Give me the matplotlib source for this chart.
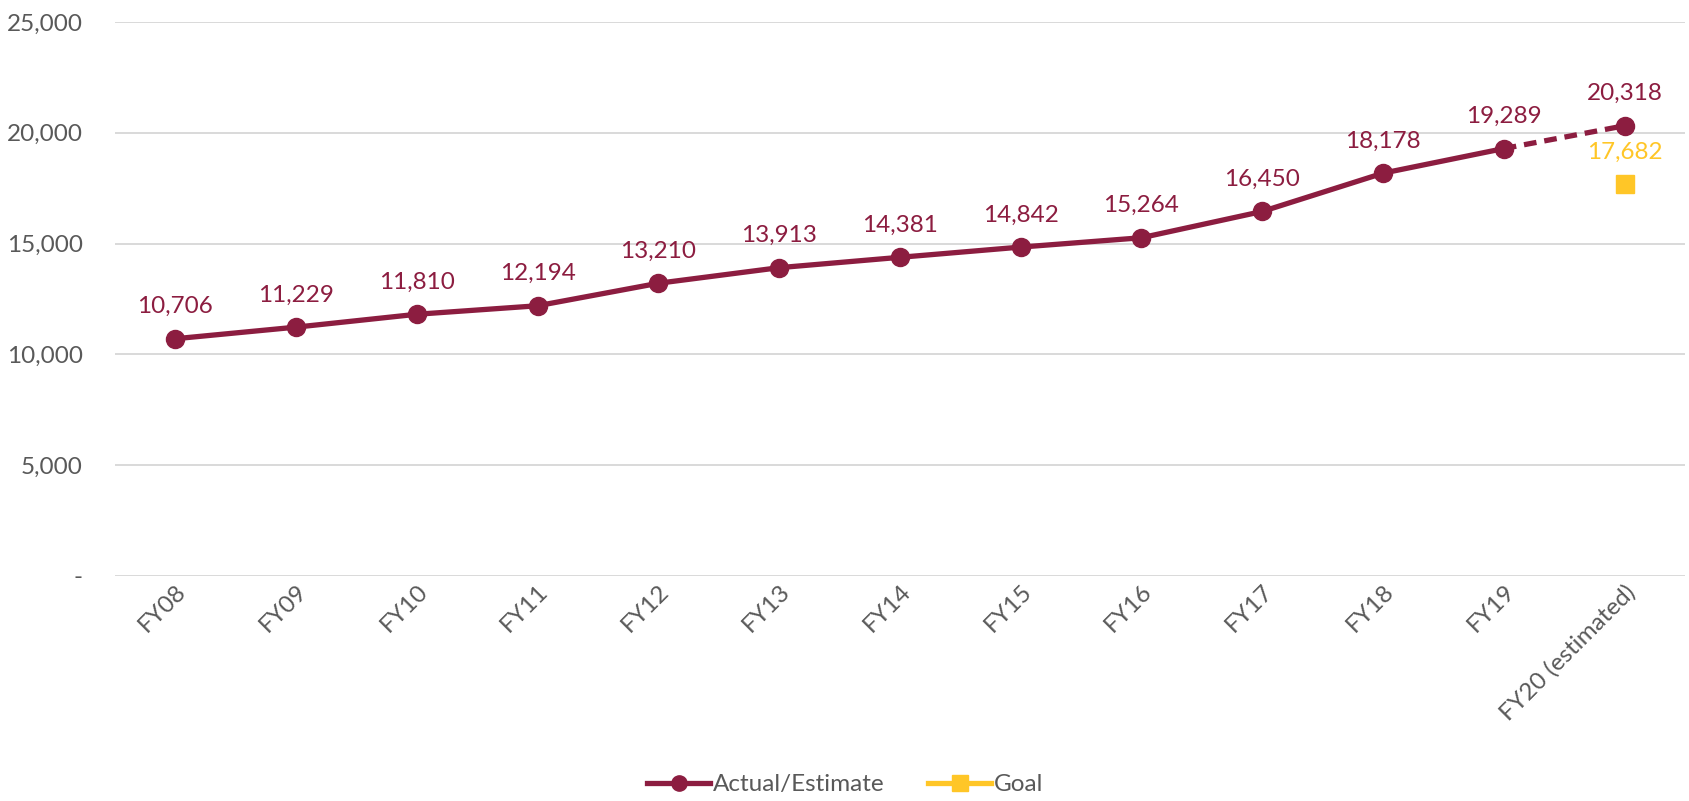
import matplotlib
matplotlib.use("Agg")
import matplotlib.pyplot as plt
import matplotlib.transforms as mtransforms
from matplotlib.lines import Line2D

plt.rcParams['font.family'] = ['Lato', 'DejaVu Sans']

categories = ["FY08", "FY09", "FY10", "FY11", "FY12", "FY13", "FY14",
              "FY15", "FY16", "FY17", "FY18", "FY19", "FY20 (estimated)"]
actual = [10706, 11229, 11810, 12194, 13210, 13913, 14381,
          14842, 15264, 16450, 18178, 19289, 20318]
goal_value = 17682
yticks = [0, 5000, 10000, 15000, 20000, 25000]
ytick_labels = ["-", "5,000", "10,000", "15,000", "20,000", "25,000"]

MAROON = "#8C1D40"
GOLD = "#FFC627"
TEXT = "#595959"
GRID = "#D9D9D9"
FS = 17.5

fig = plt.figure(figsize=(16.9, 8.01), dpi=100)
ax = fig.add_axes([0.068, 0.281, 0.929, 0.6915])

x = list(range(len(categories)))
n_act = len(actual) - 1  # last point is an estimate

# solid actuals, dashed estimate segment
ax.plot(x[:n_act], actual[:n_act], color=MAROON, lw=3.8, zorder=3,
        solid_capstyle='round')
ax.plot(x[n_act - 1:], actual[n_act - 1:], color=MAROON, lw=3.8,
        dashes=(2.4, 1.5), zorder=3)
ax.plot(x, actual, ls='none', marker='o', ms=13, color=MAROON, zorder=4)

gx = len(categories) - 1
ax.plot([gx], [goal_value], ls='none', marker='s', ms=13, color=GOLD, zorder=4)

for xi, v in zip(x, actual):
    ax.annotate(f"{v:,}", (xi, v), xytext=(0, 23), textcoords='offset points',
                ha='center', va='center', fontsize=FS, color=MAROON)
ax.annotate(f"{goal_value:,}", (gx, goal_value), xytext=(0, 23),
            textcoords='offset points', ha='center', va='center',
            fontsize=FS, color=GOLD)

ax.set_xlim(-0.5, len(categories) - 0.5)
ax.set_ylim(0, 25000)
ax.set_yticks(yticks)
ax.set_yticklabels(ytick_labels)
ax.set_xticks(x)
ax.set_xticklabels(categories, rotation=45, ha='right', va='top',
                   rotation_mode='anchor')
offset = mtransforms.ScaledTranslation(5 / 72, -21 / 72, fig.dpi_scale_trans)
for lab in ax.get_xticklabels():
    lab.set_transform(lab.get_transform() + offset)

ax.tick_params(axis='both', length=0, labelsize=FS, labelcolor=TEXT)
ax.tick_params(axis='y', pad=23)
ax.grid(axis='y', color=GRID, lw=1.4)
ax.set_axisbelow(True)
for s in ax.spines.values():
    s.set_visible(False)

handles = [
    Line2D([0], [0], color=MAROON, lw=3.8, marker='o', ms=11),
    Line2D([0], [0], color=GOLD, lw=3.8, marker='s', ms=11),
]
fig.legend(handles, ["Actual/Estimate", "Goal"], loc='center',
           bbox_to_anchor=(0.5, 0.02), ncol=2, frameon=False,
           fontsize=FS, labelcolor=TEXT, handlelength=2.6,
           handletextpad=0.1, columnspacing=1.8)

fig.savefig("out.png", dpi=100, facecolor='white')
